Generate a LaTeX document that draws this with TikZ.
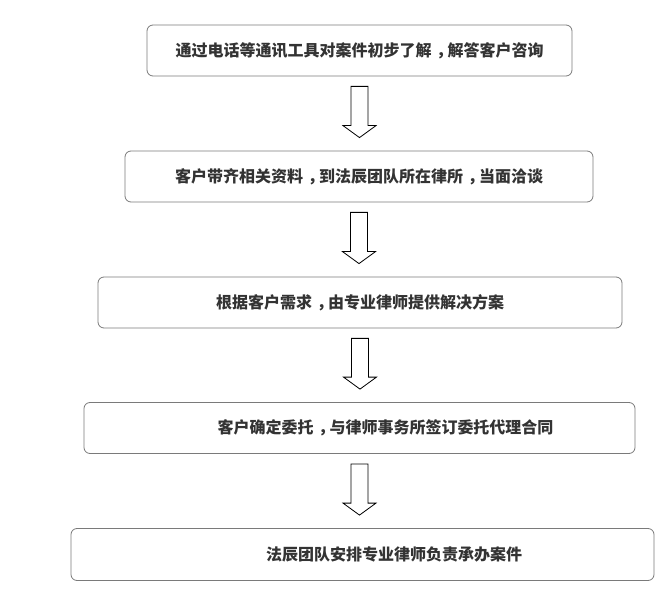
\documentclass[tikz,border=0pt]{standalone}
\usepackage{fontspec}
\newfontfamily\cjk{Noto Sans CJK SC}
\usetikzlibrary{calc}
\definecolor{boxline}{HTML}{7A7A7A}
\definecolor{boxtext}{HTML}{333333}
% full-width comma set in the middle of its em box
\newcommand{\midcomma}{\hspace{0.3em}\makebox[0.7em][l]{，}}
\begin{document}
\begin{tikzpicture}[x=1pt,y=-1pt,font=\cjk\bfseries\fontsize{16}{18}\selectfont]
  \tikzset{stepbox/.style={draw=boxline, line width=0.8pt, rounded corners=6pt, minimum height=51pt, inner sep=0pt, text=boxtext},
    blockarr/.style={draw=black, line width=0.8pt, fill=white, line join=miter}}
  \useasboundingbox (0,0) rectangle (670,596);
  \node[stepbox, minimum width=425pt] (consult) at (359.5,50.5) {通过电话等通讯工具对案件初步了解\midcomma 解答客户咨询};
  \node[stepbox, minimum width=468pt] (meet) at (359,176.5) {客户带齐相关资料\midcomma 到法辰团队所在律所\midcomma 当面洽谈};
  \node[stepbox, minimum width=524pt] (plan) at (360,302.5) {根据客户需求\midcomma 由专业律师提供解决方案};
  \node[stepbox, minimum width=551pt] (contract) at (359.5,428) {\hspace{52pt}客户确定委托\midcomma 与律师事务所签订委托代理合同};
  \node[stepbox, minimum width=583pt, minimum height=52pt] (handle) at (362.5,554.5) {\hspace{63pt}法辰团队安排专业律师负责承办案件};
  % hollow block arrows between the steps
  \foreach \a/\b in {consult/meet, meet/plan, plan/contract, contract/handle}
    \draw[blockarr] let \p1=(\a.south), \p2=(\b.north) in
      (\x1-8.5pt,\y1-10pt) -- (\x1+8.5pt,\y1-10pt) -- (\x1+8.5pt,\y2+25pt) -- (\x1+16.5pt,\y2+25pt)
      -- (\x1,\y2+13pt) -- (\x1-16.5pt,\y2+25pt) -- (\x1-8.5pt,\y2+25pt) -- cycle;
\end{tikzpicture}
\end{document}
